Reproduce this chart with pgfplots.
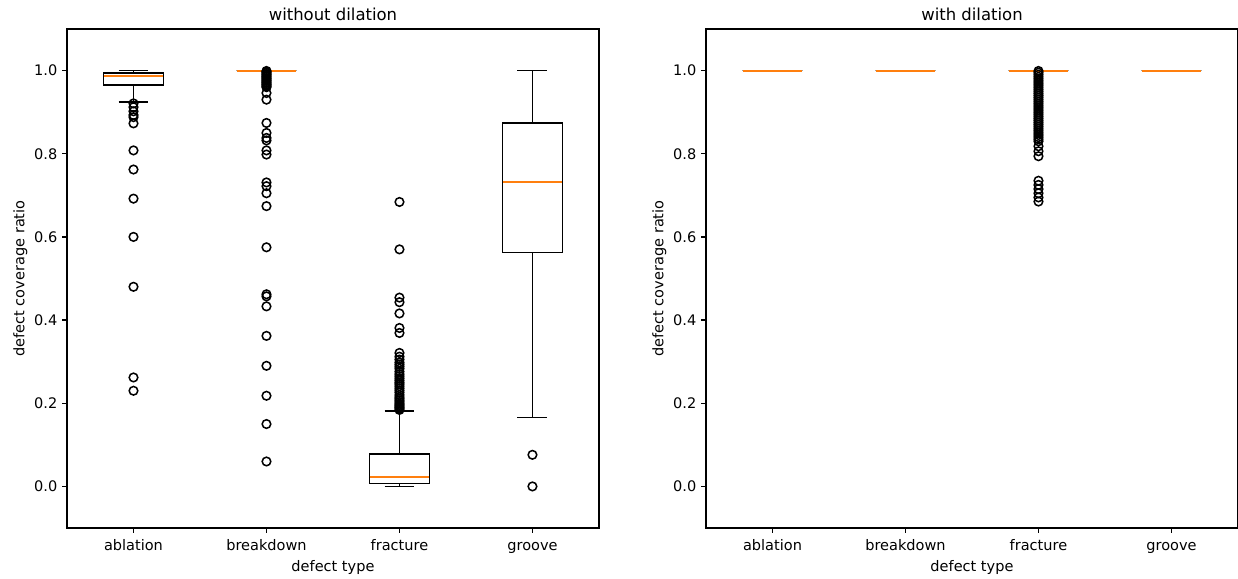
\documentclass[border=0pt]{standalone}
\usepackage{fontspec}
\setmainfont{DejaVu Sans}
\usepackage{pgfplots}
\usepgfplotslibrary{statistics}
\pgfplotsset{compat=1.18}
\definecolor{mplorange}{HTML}{FF7F0E}

\pgfplotsset{
  bpstyle/.style={
    scale only axis, width=383bp, height=359.3bp,
    xmin=0.5, xmax=4.5, ymin=-0.1, ymax=1.1,
    xtick={1,2,3,4}, xticklabels={ablation,breakdown,fracture,groove},
    ytick={0,0.2,0.4,0.6,0.8,1.0},
    yticklabel style={/pgf/number format/.cd, fixed, fixed zerofill, precision=1},
    /pgf/number format/assume math mode=true,
    tick align=outside, xtick pos=left, ytick pos=left,
    major tick length=3.5bp,
    tick style={black, line width=0.9bp},
    axis line style={line width=0.9bp},
    ticklabel style={font=\fontsize{10.5}{12}\selectfont},
    xticklabel style={text height=8bp, text depth=2.2bp, inner sep=2.5bp, yshift=-2bp},
    label style={font=\fontsize{10.5}{12}\selectfont},
    xlabel style={yshift=1bp},
    ylabel style={yshift=-2bp},
    title style={font=\fontsize{11.9}{14}\selectfont, yshift=-3.5bp},
    xlabel={defect type}, ylabel={defect coverage ratio},
    boxplot/draw direction=y,
    boxplot/box extend=0.45,
    boxplot/whisker extend=0.225,
    boxplot/every median/.style={draw=mplorange, line width=1.5bp},
    boxplot/every box/.style={draw=black, line width=1.2bp},
    boxplot/every whisker/.style={draw=black, line width=1.2bp},
  },
  outl/.style={only marks, mark=o, mark size=3.1bp, mark options={draw=black, fill=none, line width=1.1bp}},
}

\begin{document}
\begin{tikzpicture}
\useasboundingbox (0,0) rectangle (891.36bp,416.16bp);

\begin{axis}[bpstyle, at={(48.24bp,36bp)}, anchor=south west, title={without dilation}]
% ablation
\addplot[black, boxplot prepared={draw position=1, lower whisker=0.925, lower quartile=0.966, median=0.988, upper quartile=0.9945, upper whisker=1.0}] coordinates {};
% breakdown
\addplot[black, boxplot prepared={draw position=2, lower whisker=1.0, lower quartile=1.0, median=1.0, upper quartile=1.0, upper whisker=1.0}] coordinates {};
% fracture
\addplot[black, boxplot prepared={draw position=3, lower whisker=0.0, lower quartile=0.0072, median=0.0224, upper quartile=0.0786, upper whisker=0.181}] coordinates {};
% groove
\addplot[black, boxplot prepared={draw position=4, lower whisker=0.166, lower quartile=0.5625, median=0.733, upper quartile=0.874, upper whisker=1.0}] coordinates {};

\addplot[outl] coordinates {
(1,0.921) (1,0.912) (1,0.902) (1,0.893) (1,0.888) (1,0.873) (1,0.808) (1,0.762) (1,0.692) (1,0.600) (1,0.480) (1,0.262) (1,0.230)
};
\addplot[outl] coordinates {
(2,0.999) (2,0.997) (2,0.995) (2,0.992) (2,0.990) (2,0.987) (2,0.985) (2,0.982) (2,0.980) (2,0.977) (2,0.975) (2,0.972) (2,0.970) (2,0.967) (2,0.965) (2,0.962) (2,0.960) (2,0.946) (2,0.930) (2,0.874) (2,0.850) (2,0.838) (2,0.832) (2,0.808) (2,0.798) (2,0.731) (2,0.722) (2,0.705) (2,0.674) (2,0.575) (2,0.462) (2,0.457) (2,0.433) (2,0.362) (2,0.290) (2,0.218) (2,0.150) (2,0.060)
};
\addplot[outl] coordinates {
(3,0.684) (3,0.570) (3,0.454) (3,0.443) (3,0.416) (3,0.381) (3,0.369) (3,0.321) (3,0.312) (3,0.305) (3,0.298) (3,0.293) (3,0.288) (3,0.283) (3,0.276) (3,0.270) (3,0.265) (3,0.260) (3,0.255) (3,0.250) (3,0.246) (3,0.241) (3,0.236) (3,0.231) (3,0.226) (3,0.220) (3,0.215) (3,0.211) (3,0.207) (3,0.203) (3,0.199) (3,0.196) (3,0.193) (3,0.190) (3,0.187) (3,0.184)
};
\addplot[outl] coordinates {
(4,0.076) (4,0.0)
};
\end{axis}

\begin{axis}[bpstyle, at={(508.32bp,36bp)}, anchor=south west, title={with dilation}]
\addplot[black, boxplot prepared={draw position=1, lower whisker=1.0, lower quartile=1.0, median=1.0, upper quartile=1.0, upper whisker=1.0}] coordinates {};
\addplot[black, boxplot prepared={draw position=2, lower whisker=1.0, lower quartile=1.0, median=1.0, upper quartile=1.0, upper whisker=1.0}] coordinates {};
\addplot[black, boxplot prepared={draw position=3, lower whisker=1.0, lower quartile=1.0, median=1.0, upper quartile=1.0, upper whisker=1.0}] coordinates {};
\addplot[black, boxplot prepared={draw position=4, lower whisker=1.0, lower quartile=1.0, median=1.0, upper quartile=1.0, upper whisker=1.0}] coordinates {};
\addplot[outl] coordinates {
(3,0.999) (3,0.995) (3,0.990) (3,0.985) (3,0.980) (3,0.975) (3,0.970) (3,0.965) (3,0.960) (3,0.955) (3,0.950) (3,0.945) (3,0.940) (3,0.935) (3,0.930) (3,0.925) (3,0.920) (3,0.915) (3,0.910) (3,0.905) (3,0.900) (3,0.895) (3,0.890) (3,0.885) (3,0.880) (3,0.875) (3,0.870) (3,0.865) (3,0.860) (3,0.855) (3,0.850) (3,0.845) (3,0.840) (3,0.835) (3,0.830) (3,0.818) (3,0.806) (3,0.794) (3,0.735) (3,0.725) (3,0.715) (3,0.705) (3,0.695) (3,0.685)
};
\end{axis}
\end{tikzpicture}
\end{document}
